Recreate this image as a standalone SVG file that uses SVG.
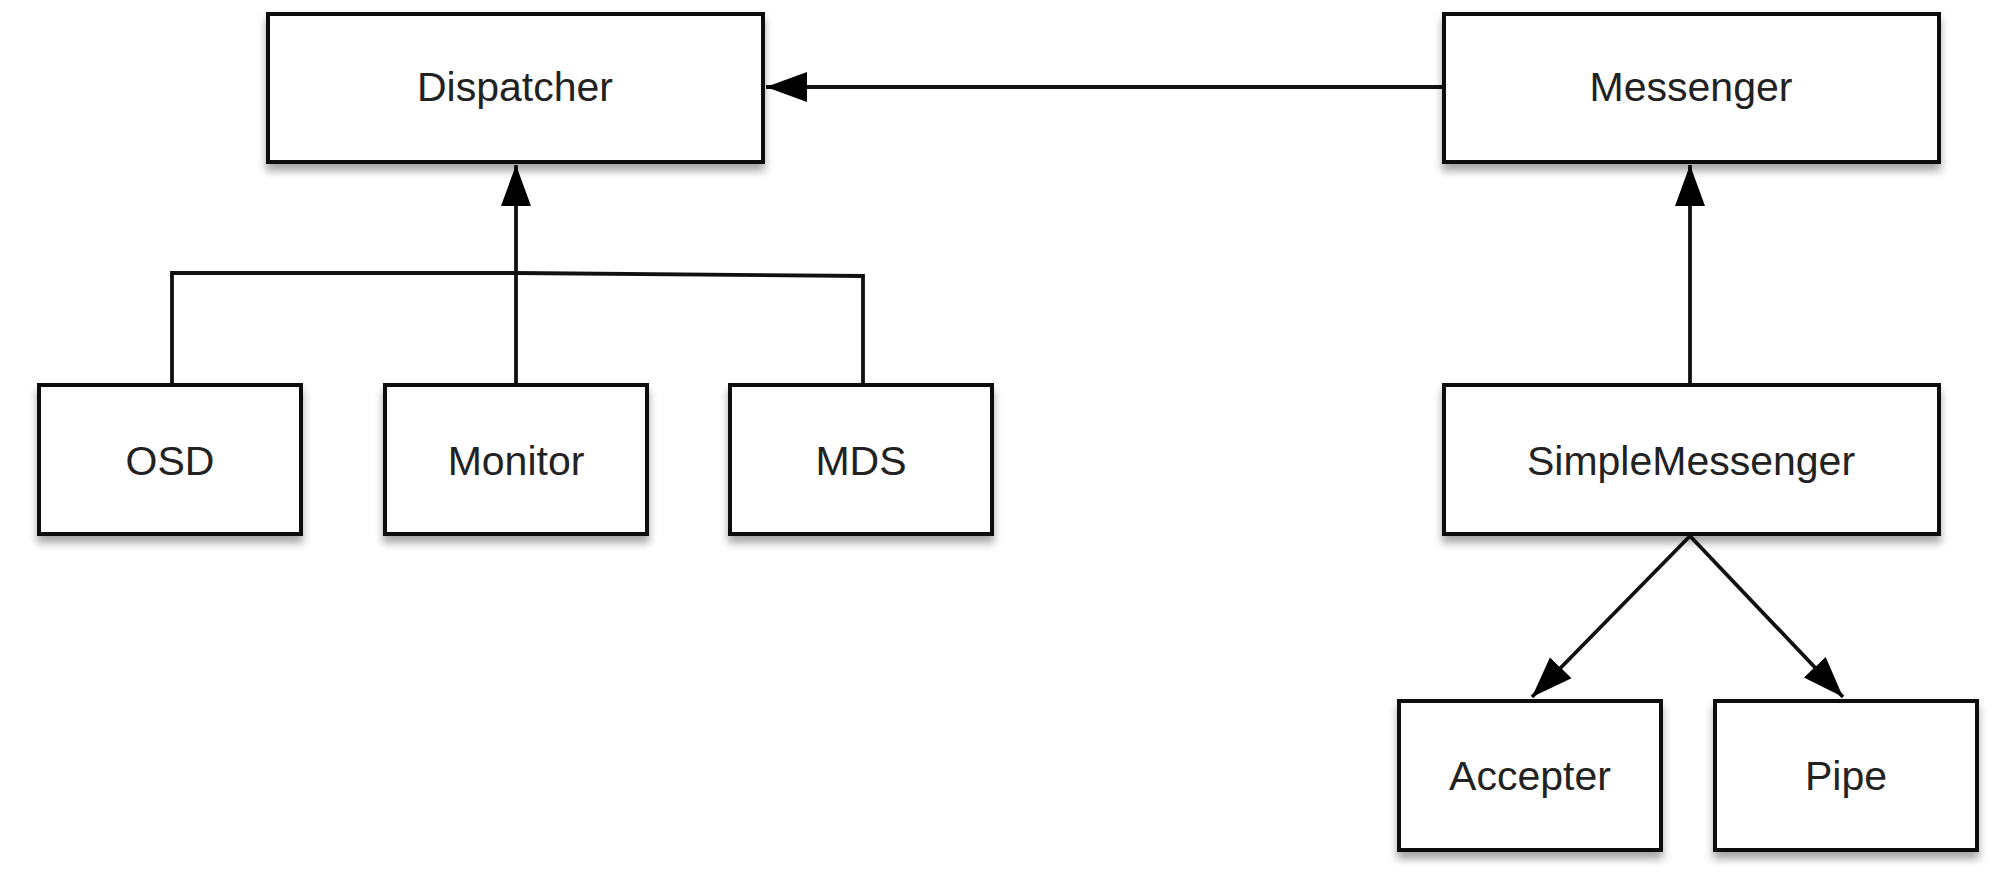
<svg xmlns="http://www.w3.org/2000/svg" width="2000" height="884" viewBox="0 0 2000 884">
<defs>
<filter id="sh" x="-10%" y="-10%" width="120%" height="130%">
<feDropShadow dx="0" dy="7" stdDeviation="4" flood-color="#000" flood-opacity="0.35"/>
</filter>
<marker id="ah" markerUnits="userSpaceOnUse" markerWidth="44" markerHeight="32" refX="41" refY="15" orient="auto">
<path d="M0,0 L41,15 L0,30 Z" fill="#000"/>
</marker>
<style>
.box{fill:#fff;stroke:#111;stroke-width:4;filter:url(#sh)}
.lbl{font-family:"Liberation Sans",Helvetica,Arial,sans-serif;font-size:41px;fill:#222;text-anchor:middle}
.ln{fill:none;stroke:#111;stroke-width:3.8}
</style>
</defs>
<rect width="2000" height="884" fill="#fff"/>
<g id="connectors">
<line class="ln" x1="1444" y1="87" x2="766" y2="87" marker-end="url(#ah)"/>
<line class="ln" x1="516" y1="385" x2="516" y2="165" marker-end="url(#ah)"/>
<polyline class="ln" points="172,385 172,273 516,273 863,276 863,385"/>
<line class="ln" x1="1690" y1="385" x2="1690" y2="165" marker-end="url(#ah)"/>
<line class="ln" x1="1690" y1="536" x2="1532" y2="697" marker-end="url(#ah)"/>
<line class="ln" x1="1690" y1="536" x2="1843" y2="697" marker-end="url(#ah)"/>
</g>
<g id="dispatcher"><rect class="box" x="268" y="14" width="495" height="148"/><text class="lbl" x="515" y="101">Dispatcher</text></g>
<g id="messenger"><rect class="box" x="1444" y="14" width="495" height="148"/><text class="lbl" x="1691" y="101">Messenger</text></g>
<g id="osd"><rect class="box" x="39" y="385" width="262" height="149"/><text class="lbl" x="170" y="475">OSD</text></g>
<g id="monitor"><rect class="box" x="385" y="385" width="262" height="149"/><text class="lbl" x="516" y="475">Monitor</text></g>
<g id="mds"><rect class="box" x="730" y="385" width="262" height="149"/><text class="lbl" x="861" y="475">MDS</text></g>
<g id="simplemessenger"><rect class="box" x="1444" y="385" width="495" height="149"/><text class="lbl" x="1691" y="475">SimpleMessenger</text></g>
<g id="accepter"><rect class="box" x="1399" y="701" width="262" height="149"/><text class="lbl" x="1530" y="790">Accepter</text></g>
<g id="pipe"><rect class="box" x="1715" y="701" width="262" height="149"/><text class="lbl" x="1846" y="790">Pipe</text></g>
</svg>
